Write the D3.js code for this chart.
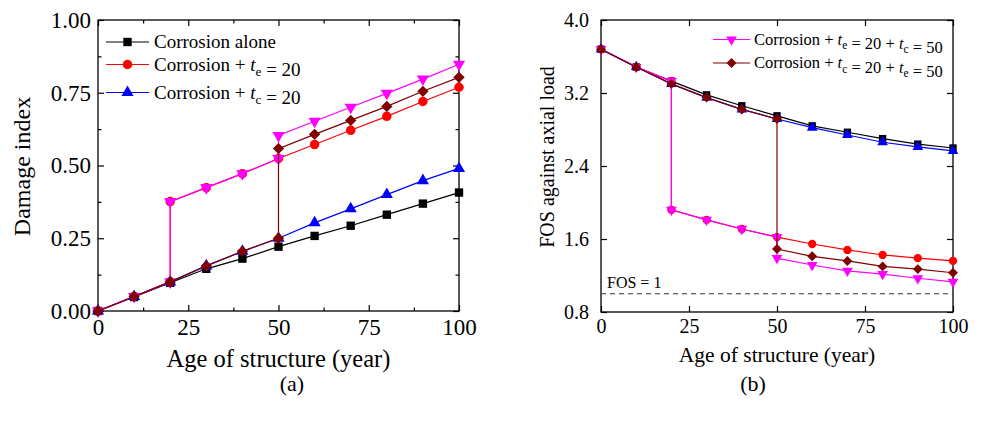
<!DOCTYPE html>
<html>
<head>
<meta charset="utf-8">
<script src="https://cdn.jsdelivr.net/npm/d3@7"></script>
<style>
  body { margin: 0; background: #fff; }
  svg { display: block; }
  svg text { font-family: "Liberation Serif", "Times New Roman", serif !important; fill: #000; }
</style>
</head>
<body>
<svg id="chart" width="983" height="423"></svg>
<script>
// ages (year); the repeated 20 / 50 give the vertical jumps
const age = [0, 10, 20, 30, 40, 50, 60, 70, 80, 90, 100];
const ageJump20 = [0, 10, 20, 20, 30, 40, 50, 60, 70, 80, 90, 100];
const ageJump50 = [0, 10, 20, 30, 40, 50, 50, 60, 70, 80, 90, 100];
const ageJump2050 = [0, 10, 20, 20, 30, 40, 50, 50, 60, 70, 80, 90, 100];

// (a) damage index
const dmgAlone = [0, 0.048, 0.097, 0.145, 0.180, 0.221, 0.258, 0.293, 0.331, 0.369, 0.407];
const dmgTe = [0, 0.05, 0.10, 0.376, 0.424, 0.472, 0.524, 0.572, 0.621, 0.669, 0.72, 0.769];
const dmgTc = [0, 0.05, 0.10, 0.155, 0.205, 0.250, 0.303, 0.351, 0.40, 0.448, 0.49];
const dmgTeTc = [0, 0.05, 0.10, 0.376, 0.424, 0.472, 0.524, 0.603, 0.652, 0.70, 0.748, 0.797, 0.848];
const dmgTcTe = [0, 0.05, 0.10, 0.155, 0.205, 0.250, 0.558, 0.607, 0.655, 0.703, 0.755, 0.803];

// (b) FOS against axial load
const fosAlone = [3.68, 3.485, 3.33, 3.18, 3.06, 2.95, 2.84, 2.77, 2.70, 2.64, 2.597];
const fosTe = [3.68, 3.485, 3.33, 1.92, 1.81, 1.71, 1.62, 1.545, 1.48, 1.425, 1.39, 1.36];
const fosTc = [3.68, 3.485, 3.30, 3.15, 3.02, 2.915, 2.82, 2.74, 2.66, 2.61, 2.565];
const fosTeTc = [3.68, 3.485, 3.33, 1.92, 1.81, 1.71, 1.62, 1.39, 1.315, 1.25, 1.215, 1.17, 1.13];
const fosTcTe = [3.68, 3.485, 3.30, 3.15, 3.02, 2.915, 1.49, 1.41, 1.36, 1.30, 1.27, 1.23];

const xTicks = [0, 25, 50, 75, 100];
const xMinor = [12.5, 37.5, 62.5, 87.5];
const dmgTicks = [0, 0.25, 0.5, 0.75, 1.0];
const dmgMinor = [0.125, 0.375, 0.625, 0.875];
const fosTicks = [0.8, 1.6, 2.4, 3.2, 4.0];

const FONT = '"Liberation Serif", "Times New Roman", serif';
const svg = d3.select("#chart").attr("font-family", FONT);

const diamond = {
  draw(ctx, size) {
    const r = Math.sqrt(size / 2);
    ctx.moveTo(0, -r); ctx.lineTo(r, 0); ctx.lineTo(0, r); ctx.lineTo(-r, 0); ctx.closePath();
  }
};
const triDown = {
  draw(ctx, size) {
    const s = Math.sqrt(size * 4 / Math.sqrt(3));
    const h = s * Math.sqrt(3) / 2;
    ctx.moveTo(-s / 2, -h / 3); ctx.lineTo(s / 2, -h / 3); ctx.lineTo(0, 2 * h / 3); ctx.closePath();
  }
};
const triUp = {
  draw(ctx, size) {
    const s = Math.sqrt(size * 4 / Math.sqrt(3));
    const h = s * Math.sqrt(3) / 2;
    ctx.moveTo(-s / 2, h / 3); ctx.lineTo(s / 2, h / 3); ctx.lineTo(0, -2 * h / 3); ctx.closePath();
  }
};

const styles = {
  alone: { color: "#000000", symbol: d3.symbolSquare, size: 60 },
  te: { color: "#ff0000", symbol: d3.symbolCircle, size: 60 },
  tc: { color: "#0000ff", symbol: triUp, size: 55 },
  teTc: { color: "#ff00ff", symbol: triDown, size: 55 },
  tcTe: { color: "#800000", symbol: diamond, size: 55 }
};

function panel(cfg) {
  const g = svg.append("g");
  const x = d3.scaleLinear().domain([0, 100]).range([cfg.left, cfg.right]);
  const y = d3.scaleLinear().domain(cfg.yDomain).range([cfg.bottom, cfg.top]);
  const k = cfg.scale;

  // frame
  g.append("rect")
    .attr("x", cfg.left).attr("y", cfg.top)
    .attr("width", cfg.right - cfg.left).attr("height", cfg.bottom - cfg.top)
    .attr("fill", "none").attr("stroke", "#000").attr("stroke-width", 1.3);

  const tick = 6;
  const styleAxis = (sel, fs) => {
    sel.attr("font-family", FONT);
    sel.select(".domain").remove();
    sel.selectAll(".tick line").attr("stroke", "#000").attr("stroke-width", 1.2);
    sel.selectAll("text").style("font-size", fs + "px").attr("fill", "#000");
  };

  g.append("g").attr("transform", `translate(0,${cfg.bottom})`)
    .call(d3.axisBottom(x).tickValues(xTicks).tickSize(-tick).tickPadding(cfg.xPad).tickFormat(d3.format("d")))
    .call(s => styleAxis(s, cfg.tickFont));
  g.append("g").attr("transform", `translate(0,${cfg.top})`)
    .call(d3.axisTop(x).tickValues(xTicks).tickSize(-tick).tickFormat(""))
    .call(s => styleAxis(s, cfg.tickFont));
  g.append("g").attr("transform", `translate(${cfg.left},0)`)
    .call(d3.axisLeft(y).tickValues(cfg.yTicks).tickSize(-tick).tickPadding(cfg.yPad).tickFormat(d3.format(cfg.yFormat)))
    .call(s => styleAxis(s, cfg.tickFont));
  g.append("g").attr("transform", `translate(${cfg.right},0)`)
    .call(d3.axisRight(y).tickValues(cfg.yTicks).tickSize(-tick).tickFormat(""))
    .call(s => styleAxis(s, cfg.tickFont));

  if (cfg.xMinor) {
    g.append("g").attr("transform", `translate(0,${cfg.bottom})`)
      .call(d3.axisBottom(x).tickValues(cfg.xMinor).tickSize(-3.5).tickFormat("")).call(s => styleAxis(s, 1));
    g.append("g").attr("transform", `translate(0,${cfg.top})`)
      .call(d3.axisTop(x).tickValues(cfg.xMinor).tickSize(-3.5).tickFormat("")).call(s => styleAxis(s, 1));
  }
  if (cfg.yMinor) {
    g.append("g").attr("transform", `translate(${cfg.left},0)`)
      .call(d3.axisLeft(y).tickValues(cfg.yMinor).tickSize(-3.5).tickFormat("")).call(s => styleAxis(s, 1));
    g.append("g").attr("transform", `translate(${cfg.right},0)`)
      .call(d3.axisRight(y).tickValues(cfg.yMinor).tickSize(-3.5).tickFormat("")).call(s => styleAxis(s, 1));
  }

  // extra decorations below data
  if (cfg.before) cfg.before(g, x, y);

  const line = d3.line().x(d => x(d[0])).y(d => y(d[1]));
  cfg.series.forEach(s => {
    const st = styles[s.key];
    const pts = s.ages.map((a, i) => [a, s.values[i]]);
    g.append("path").datum(pts)
      .attr("d", line).attr("fill", "none")
      .attr("stroke", st.color).attr("stroke-width", 1.2);
    g.selectAll(null).data(pts).enter().append("path")
      .attr("transform", d => `translate(${x(d[0])},${y(d[1])})`)
      .attr("d", d3.symbol().type(st.symbol).size(st.size * k * k))
      .attr("fill", st.color);
  });

  // legend
  cfg.legend.forEach(item => {
    const st = styles[item.key];
    const lg = g.append("g").attr("transform", `translate(0,${item.y})`);
    lg.append("line").attr("x1", cfg.legX[0]).attr("x2", cfg.legX[1])
      .attr("stroke", st.color).attr("stroke-width", 1.2);
    lg.append("path")
      .attr("transform", `translate(${(cfg.legX[0] + cfg.legX[1]) / 2},0)`)
      .attr("d", d3.symbol().type(st.symbol).size(st.size * k * k))
      .attr("fill", st.color);
    const t = lg.append("text").attr("x", cfg.legX[2]).attr("y", cfg.legFont * 0.33)
      .style("font-size", cfg.legFont + "px");
    item.parts.forEach(p => {
      if (typeof p === "string") {
        t.append("tspan").text(p);
      } else {
        t.append("tspan").style("font-style", "italic").text(p[0]);
        t.append("tspan").attr("dy", cfg.legFont * 0.25).style("font-size", (cfg.legFont * 0.7) + "px").text(p[1]);
        t.append("tspan").attr("dy", -cfg.legFont * 0.25).text("");
      }
    });
  });

  // titles
  g.append("text")
    .attr("x", (cfg.left + cfg.right) / 2).attr("y", cfg.xTitleY)
    .attr("text-anchor", "middle").style("font-size", cfg.titleFont + "px")
    .text("Age of structure (year)");
  g.append("text")
    .attr("transform", `translate(${cfg.yTitleX},${(cfg.top + cfg.bottom) / 2 + cfg.yTitleShift}) rotate(-90)`)
    .attr("text-anchor", "middle").style("font-size", cfg.yTitleFont + "px")
    .text(cfg.yTitle);
  g.append("text")
    .attr("x", cfg.capX).attr("y", cfg.capY)
    .attr("text-anchor", "middle").style("font-size", "22px")
    .text(cfg.caption);
}

panel({
  left: 98, right: 459, top: 20, bottom: 311,
  yDomain: [0, 1], yTicks: dmgTicks, yMinor: dmgMinor, xMinor: xMinor, yFormat: ".2f",
  scale: 1.08, tickFont: 23, xPad: 8, yPad: 7,
  titleFont: 24.5, xTitleY: 367, yTitle: "Damage index", yTitleFont: 24, yTitleX: 30, yTitleShift: 1,
  caption: "(a)", capX: 292, capY: 391,
  legX: [106, 149, 154], legFont: 19,
  legend: [
    { key: "alone", y: 42, parts: ["Corrosion alone"] },
    { key: "te", y: 64.5, parts: ["Corrosion + ", ["t", "e"], " = 20"] },
    { key: "tc", y: 92.5, parts: ["Corrosion + ", ["t", "c"], " = 20"] }
  ],
  series: [
    { key: "alone", ages: age, values: dmgAlone },
    { key: "te", ages: ageJump20, values: dmgTe },
    { key: "tc", ages: age, values: dmgTc },
    { key: "teTc", ages: ageJump2050, values: dmgTeTc },
    { key: "tcTe", ages: ageJump50, values: dmgTcTe }
  ]
});

panel({
  left: 601, right: 953, top: 20, bottom: 312,
  yDomain: [0.8, 4.0], yTicks: fosTicks, yFormat: ".1f",
  scale: 0.95, tickFont: 20, xPad: 7, yPad: 12,
  titleFont: 21.5, xTitleY: 362, yTitle: "FOS against axial load", yTitleFont: 20, yTitleX: 554, yTitleShift: -9,
  caption: "(b)", capX: 753, capY: 391,
  legX: [713, 750, 754], legFont: 16.5,
  legend: [
    { key: "teTc", y: 39.5, parts: ["Corrosion + ", ["t", "e"], " = 20 + ", ["t", "c"], " = 50"] },
    { key: "tcTe", y: 63, parts: ["Corrosion + ", ["t", "c"], " = 20 + ", ["t", "e"], " = 50"] }
  ],
  before: (g, x, y) => {
    g.append("line")
      .attr("x1", x(0)).attr("x2", x(100)).attr("y1", y(1)).attr("y2", y(1))
      .attr("stroke", "#333").attr("stroke-width", 1).attr("stroke-dasharray", "5,4");
    g.append("text").attr("x", 607).attr("y", y(1) - 6)
      .style("font-size", "16px").text("FOS = 1");
  },
  series: [
    { key: "alone", ages: age, values: fosAlone },
    { key: "te", ages: ageJump20, values: fosTe },
    { key: "tc", ages: age, values: fosTc },
    { key: "teTc", ages: ageJump2050, values: fosTeTc },
    { key: "tcTe", ages: ageJump50, values: fosTcTe }
  ]
});
</script>
</body>
</html>
